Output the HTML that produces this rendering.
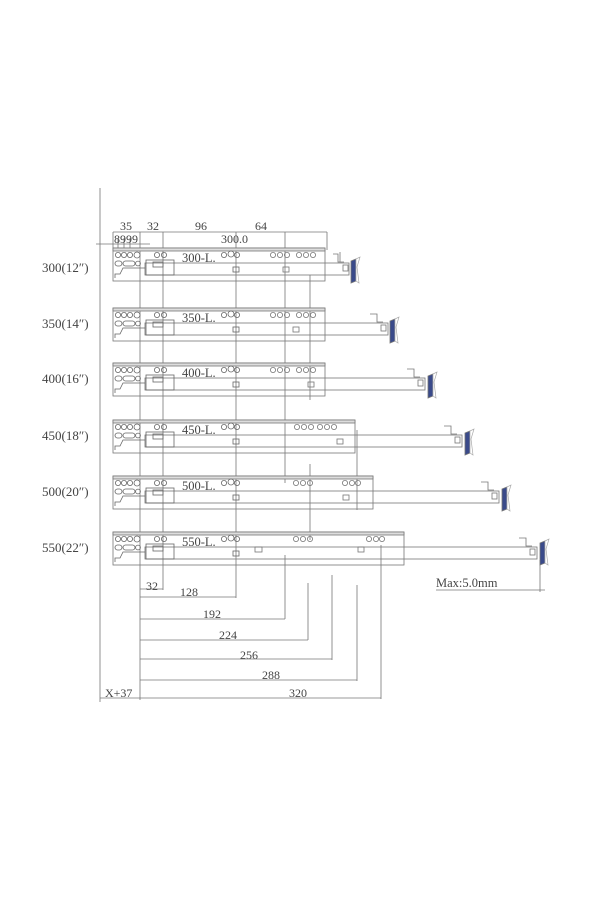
<!DOCTYPE html>
<html><head><meta charset="utf-8"><style>
html,body{margin:0;padding:0;background:#fff;}
svg{display:block;}
text{font-family:"Liberation Serif",serif;fill:#444;}
</style></head><body>
<svg width="600" height="900" viewBox="0 0 600 900" xmlns="http://www.w3.org/2000/svg">
<defs>
<g id="left" fill="none" stroke="#666" stroke-width="0.8">
  <circle cx="118" cy="7" r="2.6"/><circle cx="124" cy="7" r="2.6"/><circle cx="130" cy="7" r="2.6"/><circle cx="137" cy="7" r="3"/>
  <rect x="115" y="13" width="7" height="5" rx="2.5"/><rect x="123" y="13" width="12" height="5" rx="2.5"/><circle cx="138" cy="15.5" r="2.4"/>
  <circle cx="157" cy="7" r="2.6"/><circle cx="164" cy="7" r="2.6"/>
  <circle cx="224" cy="7" r="2.6"/><circle cx="231" cy="6" r="3"/><circle cx="237" cy="7" r="2.6"/>
  <path d="M115 30 L115 26 L120 26 L123 20 L145 20"/>
  <rect x="146" y="12" width="28" height="15"/>
  <rect x="153" y="14" width="10" height="5"/>
  <rect x="233" y="19" width="6" height="5"/>
</g>
<g id="clip">
  <path d="M0 0 L5 -2 L5 20 L0 22 Z" fill="#3a4a8a"/>
  <path d="M5 -2 L9 -4 L6 6 L8 22 L5 20 Z" fill="#fff" stroke="#aaa" stroke-width="0.7"/>
</g>
</defs>

<g fill="none" stroke="#777" stroke-width="0.8">
<line x1="100" y1="188" x2="100" y2="702"/>
<line x1="113" y1="232" x2="327" y2="232"/>
<line x1="96" y1="244" x2="150" y2="244"/>
<line x1="113" y1="232" x2="113" y2="248"/>
<line x1="118" y1="238" x2="118" y2="250"/><line x1="124" y1="238" x2="124" y2="250"/><line x1="130" y1="238" x2="130" y2="250"/>
<line x1="327" y1="232" x2="327" y2="250"/>
<line x1="340" y1="252" x2="340" y2="262"/>
<line x1="140" y1="232" x2="140" y2="700"/>
<line x1="163" y1="232" x2="163" y2="590"/>
<line x1="236" y1="232" x2="236" y2="598"/>
<line x1="285" y1="232" x2="285" y2="483"/>
<line x1="310" y1="275" x2="310" y2="400"/>
<line x1="310" y1="464" x2="310" y2="540"/>
<line x1="357" y1="430" x2="357" y2="510"/>
<line x1="285" y1="555" x2="285" y2="619"/>
<line x1="308" y1="583" x2="308" y2="640"/>
<line x1="332" y1="575" x2="332" y2="660"/>
<line x1="357" y1="585" x2="357" y2="681"/>
<line x1="381" y1="545" x2="381" y2="699"/>
<line x1="140" y1="597" x2="236" y2="597"/>
<line x1="140" y1="619" x2="285" y2="619"/>
<line x1="140" y1="640" x2="308" y2="640"/>
<line x1="140" y1="659" x2="332" y2="659"/>
<line x1="140" y1="680" x2="357" y2="680"/>
<line x1="100" y1="698" x2="381" y2="698"/>
<line x1="140" y1="589" x2="163" y2="589"/>
<line x1="436" y1="590" x2="545" y2="590"/>
<line x1="540" y1="560" x2="540" y2="592"/>
</g>

<g font-size="12">
<text x="120" y="230">35</text><text x="147" y="230">32</text>
<text x="195" y="230">96</text><text x="255" y="230">64</text>
<text x="114" y="243">8999</text><text x="221" y="243">300.0</text>
<text x="146" y="590">32</text><text x="180" y="596">128</text>
<text x="203" y="618">192</text><text x="219" y="639">224</text>
<text x="240" y="659">256</text><text x="262" y="679">288</text>
<text x="289" y="697">320</text>
<text x="105" y="697">X+37</text>
<text x="436" y="587" font-size="12.5">Max:5.0mm</text>
</g>

<g fill="none" stroke="#777" stroke-width="0.8">
<g transform="translate(0,248)">
 <rect x="113" y="0" width="212" height="33"/><rect x="113" y="0" width="212" height="3" fill="#ddd"/>
 <rect x="145" y="15" width="204" height="12"/>
 <use href="#left"/>
 <circle cx="273" cy="7" r="2.6"/><circle cx="280" cy="7" r="2.6"/><circle cx="287" cy="7" r="2.6"/>
 <circle cx="299" cy="7" r="2.6"/><circle cx="306" cy="7" r="2.6"/><circle cx="313" cy="7" r="2.6"/>
 <rect x="283" y="19" width="6" height="5"/>
 <path d="M333 6 L338 6 L338 14 L344 14"/><rect x="343" y="17" width="5" height="6"/>
 <use href="#clip" transform="translate(351,13)"/>
</g>
<g transform="translate(0,308)">
 <rect x="113" y="0" width="212" height="33"/><rect x="113" y="0" width="212" height="3" fill="#ddd"/>
 <rect x="145" y="15" width="243" height="12"/>
 <use href="#left"/>
 <circle cx="273" cy="7" r="2.6"/><circle cx="280" cy="7" r="2.6"/><circle cx="287" cy="7" r="2.6"/>
 <circle cx="299" cy="7" r="2.6"/><circle cx="306" cy="7" r="2.6"/><circle cx="313" cy="7" r="2.6"/>
 <rect x="293" y="19" width="6" height="5"/>
 <path d="M370 6 L377 6 L377 14 L383 14"/><rect x="381" y="17" width="5" height="6"/>
 <use href="#clip" transform="translate(390,13)"/>
</g>
<g transform="translate(0,363)">
 <rect x="113" y="0" width="212" height="33"/><rect x="113" y="0" width="212" height="3" fill="#ddd"/>
 <rect x="145" y="15" width="280" height="12"/>
 <use href="#left"/>
 <circle cx="273" cy="7" r="2.6"/><circle cx="280" cy="7" r="2.6"/><circle cx="287" cy="7" r="2.6"/>
 <circle cx="299" cy="7" r="2.6"/><circle cx="306" cy="7" r="2.6"/><circle cx="313" cy="7" r="2.6"/>
 <rect x="308" y="19" width="6" height="5"/>
 <path d="M407 6 L414 6 L414 14 L420 14"/><rect x="418" y="17" width="5" height="6"/>
 <use href="#clip" transform="translate(428,13)"/>
</g>
<g transform="translate(0,420)">
 <rect x="113" y="0" width="242" height="33"/><rect x="113" y="0" width="242" height="3" fill="#ddd"/>
 <rect x="145" y="15" width="317" height="12"/>
 <use href="#left"/>
 <circle cx="297" cy="7" r="2.6"/><circle cx="304" cy="7" r="2.6"/><circle cx="311" cy="7" r="2.6"/>
 <circle cx="320" cy="7" r="2.6"/><circle cx="327" cy="7" r="2.6"/><circle cx="334" cy="7" r="2.6"/>
 <rect x="337" y="19" width="6" height="5"/>
 <path d="M444 6 L451 6 L451 14 L457 14"/><rect x="455" y="17" width="5" height="6"/>
 <use href="#clip" transform="translate(465,13)"/>
</g>
<g transform="translate(0,476)">
 <rect x="113" y="0" width="260" height="33"/><rect x="113" y="0" width="260" height="3" fill="#ddd"/>
 <rect x="145" y="15" width="354" height="12"/>
 <use href="#left"/>
 <circle cx="296" cy="7" r="2.6"/><circle cx="303" cy="7" r="2.6"/><circle cx="310" cy="7" r="2.6"/>
 <circle cx="345" cy="7" r="2.6"/><circle cx="352" cy="7" r="2.6"/><circle cx="358" cy="7" r="2.6"/>
 <rect x="343" y="19" width="6" height="5"/>
 <path d="M481 6 L488 6 L488 14 L494 14"/><rect x="492" y="17" width="5" height="6"/>
 <use href="#clip" transform="translate(502,13)"/>
</g>
<g transform="translate(0,532)">
 <rect x="113" y="0" width="291" height="33"/><rect x="113" y="0" width="291" height="3" fill="#ddd"/>
 <rect x="145" y="15" width="392" height="12"/>
 <use href="#left"/>
 <circle cx="296" cy="7" r="2.6"/><circle cx="303" cy="7" r="2.6"/><circle cx="310" cy="7" r="2.6"/>
 <circle cx="369" cy="7" r="2.6"/><circle cx="376" cy="7" r="2.6"/><circle cx="382" cy="7" r="2.6"/>
 <rect x="255" y="15" width="7" height="5"/><rect x="358" y="15" width="6" height="5"/>
 <path d="M519 6 L526 6 L526 14 L532 14"/><rect x="530" y="17" width="5" height="6"/>
 <use href="#clip" transform="translate(540,11)"/>
</g>
</g>

<g font-size="12.5">
<text x="182" y="262">300-L.</text><text x="182" y="322">350-L.</text><text x="182" y="377">400-L.</text>
<text x="182" y="434">450-L.</text><text x="182" y="490">500-L.</text><text x="182" y="546">550-L.</text>
</g>
<g font-size="13">
<text x="42" y="272">300(12″)</text><text x="42" y="328">350(14″)</text><text x="42" y="383">400(16″)</text>
<text x="42" y="440">450(18″)</text><text x="42" y="496">500(20″)</text><text x="42" y="552">550(22″)</text>
</g>
</svg>
</body></html>
